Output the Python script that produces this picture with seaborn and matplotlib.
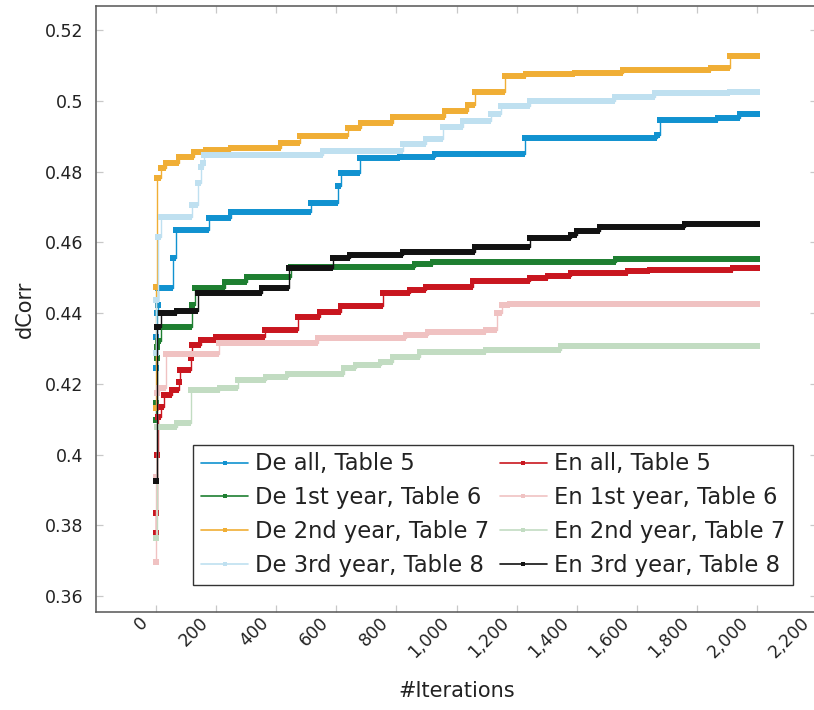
import numpy as np
import pandas as pd
import matplotlib
matplotlib.use("Agg")
import matplotlib.pyplot as plt
from matplotlib.ticker import FuncFormatter, MultipleLocator, FixedLocator
from matplotlib.lines import Line2D
from matplotlib.transforms import ScaledTranslation
import seaborn as sns

# Best-so-far dCorr per run: iteration where the value changes, and the new value
de_all_it = [0, 1, 2, 3, 5, 8, 57, 65, 175, 248, 517, 604, 614, 680, 813, 930, 1072, 1229, 1668, 1678, 1870, 1944, 2000]
de_all_val = [0.4244, 0.4333, 0.4361, 0.4399, 0.4423, 0.4472, 0.4557, 0.4635, 0.4668, 0.4686, 0.4710, 0.4759,
              0.4797, 0.4837, 0.4842, 0.4849, 0.4851, 0.4896, 0.4903, 0.4946, 0.4952, 0.4964, 0.4964]

de_y1_it = [0, 1, 3, 4, 6, 15, 120, 131, 231, 301, 450, 863, 923, 1532, 2000]
de_y1_val = [0.4098, 0.4145, 0.4272, 0.4305, 0.4322, 0.4361, 0.4423, 0.4470, 0.4489, 0.4503, 0.4531,
             0.4540, 0.4545, 0.4553, 0.4553]

de_y2_it = [0, 1, 3, 15, 32, 75, 125, 165, 248, 417, 480, 640, 683, 790, 963, 1039, 1063, 1162, 1232,
            1395, 1555, 1847, 1911, 2000]
de_y2_val = [0.4133, 0.4473, 0.4781, 0.4809, 0.4823, 0.4842, 0.4856, 0.4861, 0.4867, 0.4880, 0.4900,
             0.4924, 0.4936, 0.4953, 0.4971, 0.4988, 0.5024, 0.5071, 0.5076, 0.5080, 0.5087, 0.5093,
             0.5127, 0.5127]

de_y3_it = [0, 1, 6, 18, 118, 140, 150, 155, 160, 557, 823, 900, 956, 1023, 1116, 1149, 1245, 1528,
            1661, 1911, 2000]
de_y3_val = [0.4286, 0.4437, 0.4616, 0.4672, 0.4705, 0.4767, 0.4814, 0.4823, 0.4847, 0.4858, 0.4877,
             0.4891, 0.4925, 0.4943, 0.4963, 0.4985, 0.5000, 0.5012, 0.5021, 0.5026, 0.5026]

en_all_it = [0, 1, 2, 5, 15, 25, 52, 76, 81, 115, 120, 151, 198, 364, 474, 547, 617, 757, 846, 900,
             1056, 1245, 1305, 1382, 1571, 1645, 1921, 2000]
en_all_val = [0.3777, 0.3834, 0.3999, 0.4107, 0.4135, 0.4168, 0.4182, 0.4206, 0.4239, 0.4272, 0.4310,
              0.4324, 0.4331, 0.4352, 0.4389, 0.4404, 0.4420, 0.4457, 0.4465, 0.4474, 0.4491, 0.4498,
              0.4505, 0.4514, 0.4520, 0.4523, 0.4526, 0.4526]

en_y1_it = [0, 1, 2, 10, 32, 208, 540, 833, 906, 1099, 1136, 1150, 1179, 2000]
en_y1_val = [0.3697, 0.3937, 0.4173, 0.4187, 0.4285, 0.4314, 0.4329, 0.4338, 0.4347, 0.4352, 0.4399,
             0.4423, 0.4427, 0.4427]

en_y2_it = [0, 2, 68, 115, 214, 274, 365, 440, 624, 667, 750, 790, 880, 1099, 1349, 2000]
en_y2_val = [0.3763, 0.4079, 0.4088, 0.4182, 0.4187, 0.4212, 0.4220, 0.4228, 0.4244, 0.4253, 0.4262,
             0.4276, 0.4291, 0.4297, 0.4307, 0.4307]

en_y3_it = [0, 3, 15, 68, 141, 351, 441, 590, 647, 823, 1063, 1245, 1382, 1400, 1478, 1761, 2000]
en_y3_val = [0.3926, 0.4361, 0.4401, 0.4406, 0.4456, 0.4470, 0.4528, 0.4555, 0.4564, 0.4572, 0.4587,
             0.4611, 0.4620, 0.4633, 0.4644, 0.4651, 0.4651]

labels = ["De all, Table 5", "De 1st year, Table 6", "De 2nd year, Table 7", "De 3rd year, Table 8",
          "En all, Table 5", "En 1st year, Table 6", "En 2nd year, Table 7", "En 3rd year, Table 8"]
colors = ["#1192d0", "#1e7f31", "#f0ae35", "#bfe0f0",
          "#c9161f", "#f0c2c2", "#c2dcc2", "#121212"]
series = [(de_all_it, de_all_val), (de_y1_it, de_y1_val), (de_y2_it, de_y2_val), (de_y3_it, de_y3_val),
          (en_all_it, en_all_val), (en_y1_it, en_y1_val), (en_y2_it, en_y2_val), (en_y3_it, en_y3_val)]
x_ticks = list(range(0, 2201, 200))

sns.set_theme(style="white")
plt.rcParams["font.family"] = ["DejaVu Sans"]

fig = plt.figure(figsize=(8.14, 7.10), dpi=100)
ax = fig.add_axes([96 / 814, 1 - 612 / 710, (817 - 96) / 814, (612 - 6) / 710])

mark = 4.3
for k, ((its, vals), lab, col) in enumerate(zip(series, labels, colors)):
    df = pd.DataFrame({"iteration": its, "dCorr": vals})
    z = 2 + k
    sns.lineplot(data=df, x="iteration", y="dCorr", ax=ax, color=col, linewidth=1.0,
                 drawstyle="steps-post", marker="s", markersize=mark, markeredgewidth=0,
                 legend=False, zorder=z)
    # plateaus between improvements
    ax.hlines(df["dCorr"].values[:-1], df["iteration"].values[:-1], df["iteration"].values[1:],
              colors=col, linewidth=mark, zorder=z, capstyle="butt")

ax.set_xlim(-200, 2200)
ax.set_ylim(0.3555, 0.5268)
ax.xaxis.set_major_locator(FixedLocator(x_ticks))
ax.yaxis.set_major_locator(MultipleLocator(0.02))
ax.xaxis.set_major_formatter(FuncFormatter(lambda v, p: f"{int(round(v)):,}"))
ax.yaxis.set_major_formatter(FuncFormatter(lambda v, p: f"{v:g}"))

ax.tick_params(axis="both", which="major", direction="in", length=5, width=0.9,
               color="#c8c8c8", labelsize=12.5, labelcolor="#222222",
               top=True, right=True, bottom=True, left=True)
ax.tick_params(axis="y", pad=9)
ax.tick_params(axis="x", pad=1)
shift = ScaledTranslation(-17 / 100, 0, fig.dpi_scale_trans)
for lab in ax.get_xticklabels():
    lab.set_rotation(45)
    lab.set_ha("right")
    lab.set_va("top")
    lab.set_rotation_mode("anchor")
    lab.set_transform(lab.get_transform() + shift)

for sp in ax.spines.values():
    sp.set_color("#555555")
    sp.set_linewidth(1.1)

ax.set_xlabel("#Iterations", fontsize=15, color="#222222", labelpad=14)
ax.set_ylabel("dCorr", fontsize=15, color="#222222", labelpad=7)

handles = [Line2D([0], [0], color=c, linewidth=1.2, marker="s", markersize=3.5, markeredgewidth=0)
           for c in colors]
leg = ax.legend(handles, labels, ncol=2, loc="lower left", bbox_to_anchor=(193 / 814, 125 / 710),
                bbox_transform=fig.transFigure, fontsize=16.3, frameon=True, fancybox=False,
                framealpha=1, edgecolor="#333333", borderpad=0.35, labelspacing=0.48,
                handlelength=2.1, handletextpad=0.3, columnspacing=0.45, borderaxespad=0)
leg.get_frame().set_linewidth(1.0)
for t in leg.get_texts():
    t.set_color("#222222")

fig.savefig("out.png", dpi=100)
